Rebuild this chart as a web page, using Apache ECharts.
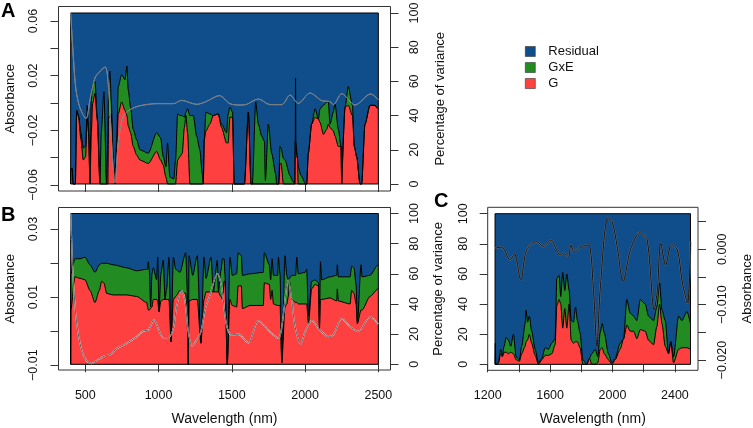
<!DOCTYPE html>
<html>
<head>
<meta charset="utf-8">
<style>
  html, body { margin: 0; padding: 0; background: #fff; }
  #chart { width: 753px; height: 428px; }
</style>
</head>
<body>
<div id="chart"></div>
<script src="https://cdn.jsdelivr.net/npm/echarts@6/dist/echarts.min.js"></script>
<script>
// panel A, cumulative tops of the variance areas (%)
const aWave = [
  400,402,411,416,432,441,454,470,486,502,
  513,522,532,541,550,566,582,600,609,627,
  645,654,659,668,677,691,702,714,725,748,
  771,784,793,809,827,850,873,930,987,1014,
  1032,1050,1061,1077,1104,1116,1130,1146,1162,1176,
  1187,1198,1214,1237,1260,1282,1298,1305,1312,1323,
  1350,1373,1407,1430,1464,1475,1487,1505,1516,1586,
  1613,1631,1640,1663,1681,1704,1722,1729,1749,1772,
  1799,1806,1820,1829,1836,1852,1863,1897,1913,1930,
  1933,1935,1937,1948,1953,1972,2004,2011,2022,2045,
  2068,2091,2102,2125,2148,2159,2170,2193,2204,2227,
  2245,2250,2254,2273,2295,2323,2336,2352,2375,2386,
  2409,2443,2477,2496,2500
]
const aG = [
  0,9,9,0,0,43,39,26,14,16,
  39,30,0,30,47,53,37,0,0,0,
  0,0,39,39,41,14,0,22,41,48,
  43,40,34,30,22,17,14,12,19,14,
  11,4,0,0,0,0,14,16,18,33,
  40,30,0,0,0,0,0,0,26,31,
  35,40,41,33,24,24,39,39,0,0,
  42,0,0,0,0,0,0,0,0,0,
  0,0,0,12,12,0,0,0,0,0,
  25,25,25,15,0,0,0,0,18,35,
  39,38,36,29,32,35,33,31,28,22,
  22,0,0,45,46,40,22,16,0,0,
  35,46,46,44,44
]
const aGxE = [
  0,9,9,0,0,43,40,30,21,22,
  46,33,0,49,58,60,39,0,30,54,
  0,30,59,66,49,14,0,26,57,64,
  61,69,55,45,32,26,20,18,30,27,
  16,10,24,4,3,14,41,40,40,39,
  42,44,40,40,28,20,6,0,26,42,
  41,40,41,35,30,41,45,42,0,0,
  42,0,0,48,35,28,25,2,35,18,
  6,0,0,22,21,15,14,5,2,0,
  25,62,25,15,10,5,0,0,18,35,
  44,38,44,46,48,48,35,42,47,32,
  22,0,0,45,57,46,22,16,0,0,
  35,46,46,44,44
]
const aAbsWave = [400,418,436,464,505,532,566,600,636,657,680,702,725,759,805,873,987,1101,1157,1260,1328,1415,1487,1556,1601,1681,1761,1841,1897,1954,2034,2114,2170,2193,2250,2341,2448,2500]
const aAbs = [0.066,0.034,0.0098,-0.0037,-0.0115,0.0024,0.0183,0.0232,0.0263,0.0134,-0.0293,-0.0586,-0.0293,-0.0098,-0.0049,-0.002,-0.0005,-0.0005,0.0019,-0.001,0.0012,0.0054,-0.0005,-0.0015,-0.001,0.0029,-0.0012,-0.0012,0.0058,-0.0003,0.0073,0.0017,0.001,-0.0012,0.0068,-0.0015,0.0066,0.0024]

// panel B
const bWave = [
  400,401,429,464,498,532,566,596,611,627,
  646,691,782,850,919,925,930,937,946,955,
  964,987,994,1003,1016,1032,1044,1055,1071,1085,
  1101,1117,1146,1185,1200,1203,1208,1233,1264,1289,
  1310,1324,1358,1374,1401,1408,1425,1437,1447,1453,
  1469,1487,1503,1533,1543,1565,1572,1625,1715,1722,
  1756,1765,1775,1784,1813,1818,1829,1841,1863,1875,
  1886,1893,1909,1936,1943,1954,2000,2011,2023,2045,
  2068,2091,2098,2105,2114,2170,2216,2220,2227,2307,
  2318,2334,2348,2357,2382,2389,2443,2498,2500
]
const bG = [
  0,36,58,57,56,49,41,49,55,54,
  47,46,46,45,41,38,36,36,37,38,
  43,43,42,35,42,43,43,43,43,15,
  43,45,49,47,20,0,42,43,43,14,
  43,48,48,48,48,48,45,43,55,55,
  0,43,39,38,52,52,37,39,39,54,
  53,43,49,40,39,39,39,1,38,40,
  45,55,43,41,41,40,40,40,27,50,
  53,52,23,43,43,44,42,50,42,40,
  49,47,40,27,36,36,45,50,50
]
const bGxE = [
  0,60,70,70,71,66,61,66,67,67,
  67,66,64,62,63,63,68,62,38,60,
  64,56,71,35,60,69,43,50,71,15,
  71,63,61,74,40,0,72,59,72,14,
  71,57,71,48,69,48,62,70,70,60,
  0,71,59,60,74,72,59,60,61,74,
  66,56,70,59,59,71,60,1,72,59,
  56,57,59,59,71,60,61,63,32,55,
  56,54,24,68,56,58,59,66,58,58,
  65,64,53,27,66,58,59,66,66
]
const bAbsWave = [400,418,441,475,509,543,589,634,668,714,782,850,896,930,969,998,1032,1066,1101,1123,1157,1180,1203,1230,1260,1289,1317,1351,1401,1430,1464,1498,1544,1613,1681,1750,1818,1841,1886,1909,1932,1970,2000,2045,2102,2159,2193,2250,2307,2364,2443,2500]
const bAbs = [0.0345,0.015,0.0023,-0.0056,-0.0087,-0.0095,-0.0083,-0.0072,-0.007,-0.0051,-0.0036,-0.0016,0.0001,0.0003,0.0034,0.0008,-0.0019,-0.0019,0.0008,0.0072,0.0119,0.0091,-0.0002,-0.0043,-0.0026,-0.0002,0.0062,0.0106,0.0169,0.013,0.0018,-0.0011,-0.0009,-0.0034,0.0031,0.0003,-0.0021,0.0013,0.015,0.0091,0.0013,-0.0038,-0.0002,0.0031,0.0003,-0.0016,-0.0011,0.0037,0.0013,-0.0001,0.0042,0.0021]

// panel C
const cWave = [
  1247,1249,1252,1258,1268,1283,1294,1305,1318,1333,
  1348,1365,1382,1403,1418,1440,1446,1455,1467,1482,
  1504,1525,1547,1568,1589,1611,1632,1643,1658,1668,
  1681,1694,1707,1722,1735,1750,1763,1775,1792,1810,
  1835,1852,1867,1889,1906,1921,1934,1947,1974,1996,
  2017,2049,2071,2092,2113,2135,2156,2178,2210,2231,
  2263,2284,2302,2317,2338,2359,2374,2391,2424,2445,
  2477,2500
]
const cG = [
  0,0,0,0,0.7,7,5,8,8,7,
  8,7,3,2,7,12,15,16,20,14,
  6,0,3,6,6,7,13,39,43,40,
  24,37,24,40,16,14,15,15,11,0,
  0,4,0,0,1,10,11,7,3,0,
  3,10,17,26,22,22,17,23,22,16,
  13,25,40,27,12,7,15,1,10,11,
  11,10
]
const cGxE = [
  0,14,0,0,1,10,6,12,18,16,
  12,20,5,3,12,27,36,28,32,22,
  10,1,4,11,10,14,17,57,59,45,
  61,49,60,49,29,28,38,29,21,3,
  0,4,7,10,5,21,27,21,7,1,
  4,14,17,43,34,32,29,43,40,32,
  29,38,54,36,29,7,15,5,32,29,
  35,27
]
const cAbsWave = [1247,1290,1343,1371,1412,1450,1514,1557,1604,1664,1685,1718,1733,1754,1803,1846,1878,1900,1921,1970,1998,2030,2068,2115,2175,2222,2267,2288,2309,2341,2378,2416,2448,2481,2500]
const cAbs = [0.0002,0.0004,-0.0019,-0.0008,-0.0055,-0.0001,0.0014,0.0005,0.0017,-0.001,-0.0007,-0.0013,0.0008,-0.0004,0.0005,0.0008,-0.0073,-0.0175,-0.0073,0.0056,0.005,0.0005,-0.0058,-0.0001,0.003,0.0017,-0.0109,-0.0073,0.0011,-0.0028,0.0008,-0.0001,-0.0061,-0.0097,0.0014]

const pctTicks = [0, 20, 40, 60, 80, 100]
const residualPct = [0, 100, 100, 0, 0]
const legendNames = ['Residual', 'GxE', 'G']

const BLUE = '#104E8B'
const GREEN = '#228B22'
const RED = '#FF4040'
const FONT = '"Liberation Sans", Arimo, Helvetica, Arial, sans-serif'

function zip(xs, ys) {
  return xs.map((x, i) => [x, ys[i]])
}

function fmtAbs(digits) {
  return v => (v < 0 ? '\u2212' : '') + Math.abs(v).toFixed(digits)
}

const grids = []
const xAxes = []
const yAxes = []
const series = []

function tickStyle() {
  return { show: true, length: 8, lineStyle: { color: '#333', width: 1 } }
}

function addPanel(p) {
  const gi = grids.length
  grids.push({ left: p.box[0], top: p.box[1], width: p.box[2], height: p.box[3], show: true, borderColor: '#333', borderWidth: 1, backgroundColor: 'transparent', outerBoundsMode: 'none' })
  xAxes.push({
    type: 'value', gridIndex: gi, min: p.xRange[0], max: p.xRange[1], position: 'bottom',
    splitLine: { show: false }, axisLine: { show: false },
    axisTick: Object.assign(tickStyle(), { customValues: p.xTicks }),
    axisLabel: p.xLabels
      ? { customValues: p.xLabels, margin: 19, fontSize: 12.5, color: '#111', fontFamily: FONT, formatter: v => String(v) }
      : { show: false },
    name: p.xName || '', nameLocation: 'middle', nameGap: 42, nameMoveOverlap: false,
    nameTextStyle: { fontSize: 14, color: '#111', fontFamily: FONT }
  })
  // percentage axis
  const pi = yAxes.length
  yAxes.push({
    type: 'value', gridIndex: gi, min: p.pctRange[0], max: p.pctRange[1], position: p.pctSide,
    splitLine: { show: false }, axisLine: { show: false },
    axisTick: Object.assign(tickStyle(), { customValues: pctTicks }),
    axisLabel: { customValues: pctTicks, rotate: 90, margin: 18, fontSize: 12.5, color: '#111', fontFamily: FONT, formatter: v => String(v) },
    name: p.pctName || '', nameLocation: 'middle', nameRotate: 90, nameGap: p.pctGap, nameMoveOverlap: false,
    nameTextStyle: { fontSize: 13, color: '#111', fontFamily: FONT }
  })
  // absorbance axis
  const ai = yAxes.length
  yAxes.push({
    type: 'value', gridIndex: gi, min: p.absRange[0], max: p.absRange[1], position: p.absSide,
    splitLine: { show: false }, axisLine: { show: false },
    axisTick: Object.assign(tickStyle(), { customValues: p.absTicks }),
    axisLabel: { customValues: p.absLabels, rotate: 90, margin: 18, fontSize: 12.5, color: '#111', fontFamily: FONT, formatter: fmtAbs(p.absDigits) },
    name: 'Absorbance', nameLocation: 'middle', nameRotate: 90, nameGap: p.absGap, nameMoveOverlap: false,
    nameTextStyle: { fontSize: 13, color: '#111', fontFamily: FONT }
  })

  const area = (name, data, color, smooth) => ({
    name, type: 'line', xAxisIndex: gi, yAxisIndex: pi, data, symbol: 'none', animation: false,
    smooth, smoothMonotone: 'x',
    itemStyle: { color }, lineStyle: { color: '#000', width: 1 },
    areaStyle: { color, opacity: 1, origin: 0 }
  })
  const first = p.wave[0]
  const last = p.wave[p.wave.length - 1]
  series.push(area('Residual', zip([first, first, last, last, first], residualPct), BLUE, false))
  series.push(area('GxE', zip(p.wave, p.gxe), GREEN, 0.25))
  series.push(area('G', zip(p.wave, p.g), RED, 0.25))
  series.push({
    name: 'Absorbance', type: 'line', xAxisIndex: gi, yAxisIndex: ai, data: zip(p.absWave, p.abs),
    symbol: 'none', smooth: 0.3, animation: false, lineStyle: { color: p.lineUnder, width: p.underWidth }
  })
  series.push({
    name: 'Absorbance', type: 'line', xAxisIndex: gi, yAxisIndex: ai, data: zip(p.absWave, p.abs),
    symbol: 'none', smooth: 0.3, animation: false, lineStyle: { color: p.lineOver, width: p.overWidth }
  })
}

addPanel({
  box: [58.5, 6.5, 332, 184.5], xRange: [317, 2583], xTicks: [500, 1000, 1500, 2000, 2500],
  pctRange: [-4.1, 103.8], pctSide: 'right', pctName: 'Percentage of variance', pctGap: 43,
  absRange: [-0.0644, 0.0706], absSide: 'left', absTicks: [-0.06, -0.04, -0.02, 0, 0.02, 0.04, 0.06],
  absLabels: [-0.06, -0.02, 0.02, 0.06], absDigits: 2, absGap: 42,
  wave: aWave, g: aG, gxe: aGxE, absWave: aAbsWave, abs: aAbs, lineUnder: '#bbbbbb', underWidth: 0.9, lineOver: '#666666', overWidth: 0.7
})
addPanel({
  box: [58.5, 207.5, 332, 162.5], xRange: [317, 2583], xTicks: [500, 1000, 1500, 2000, 2500],
  xLabels: [500, 1000, 1500, 2000, 2500], xName: 'Wavelength (nm)',
  pctRange: [-3.8, 104], pctSide: 'right', pctName: '', pctGap: 43,
  absRange: [-0.0114, 0.0363], absSide: 'left', absTicks: [-0.01, 0, 0.01, 0.02, 0.03],
  absLabels: [-0.01, 0.01, 0.03], absDigits: 2, absGap: 42,
  wave: bWave, g: bG, gxe: bGxE, absWave: bAbsWave, abs: bAbs, lineUnder: '#ffffff', underWidth: 1.3, lineOver: '#444444', overWidth: 0.9
})
addPanel({
  box: [487.7, 207.3, 210.3, 163], xRange: [1200, 2548], xTicks: [1200, 1400, 1600, 1800, 2000, 2200, 2400],
  xLabels: [1200, 1600, 2000, 2400], xName: 'Wavelength (nm)',
  pctRange: [-3.98, 104.25], pctSide: 'left', pctName: 'Percentage of variance', pctGap: 43,
  absRange: [-0.02184, 0.00758], absSide: 'right', absTicks: [-0.02, -0.015, -0.01, -0.005, 0, 0.005],
  absLabels: [-0.02, -0.01, 0], absDigits: 3, absGap: 43,
  wave: cWave, g: cG, gxe: cGxE, absWave: cAbsWave, abs: cAbs, lineUnder: '#777777', underWidth: 1.7, lineOver: '#111111', overWidth: 1
})

const panelLetters = [['A', 1, 1], ['B', 1, 205], ['C', 434, 191]]

const chart = echarts.init(document.getElementById('chart'), null, { renderer: 'canvas' })
chart.setOption({
  animation: false,
  backgroundColor: '#fff',
  textStyle: { fontFamily: FONT },
  title: panelLetters.map(l => ({
    text: l[0], left: l[1], top: l[2], padding: 0,
    textStyle: { fontSize: 20, fontWeight: 'bold', color: '#000', fontFamily: FONT }
  })),
  legend: {
    data: legendNames, left: 525, top: 45, orient: 'vertical', icon: 'rect', itemWidth: 10, itemHeight: 10, itemGap: 3,
    selectedMode: false, padding: 0,
    itemStyle: { borderColor: '#333', borderWidth: 0.6 },
    textStyle: { fontSize: 13, color: '#111', fontFamily: FONT, padding: [0, 0, 0, 8] }
  },
  grid: grids,
  xAxis: xAxes,
  yAxis: yAxes,
  series: series
})
</script>
</body>
</html>
